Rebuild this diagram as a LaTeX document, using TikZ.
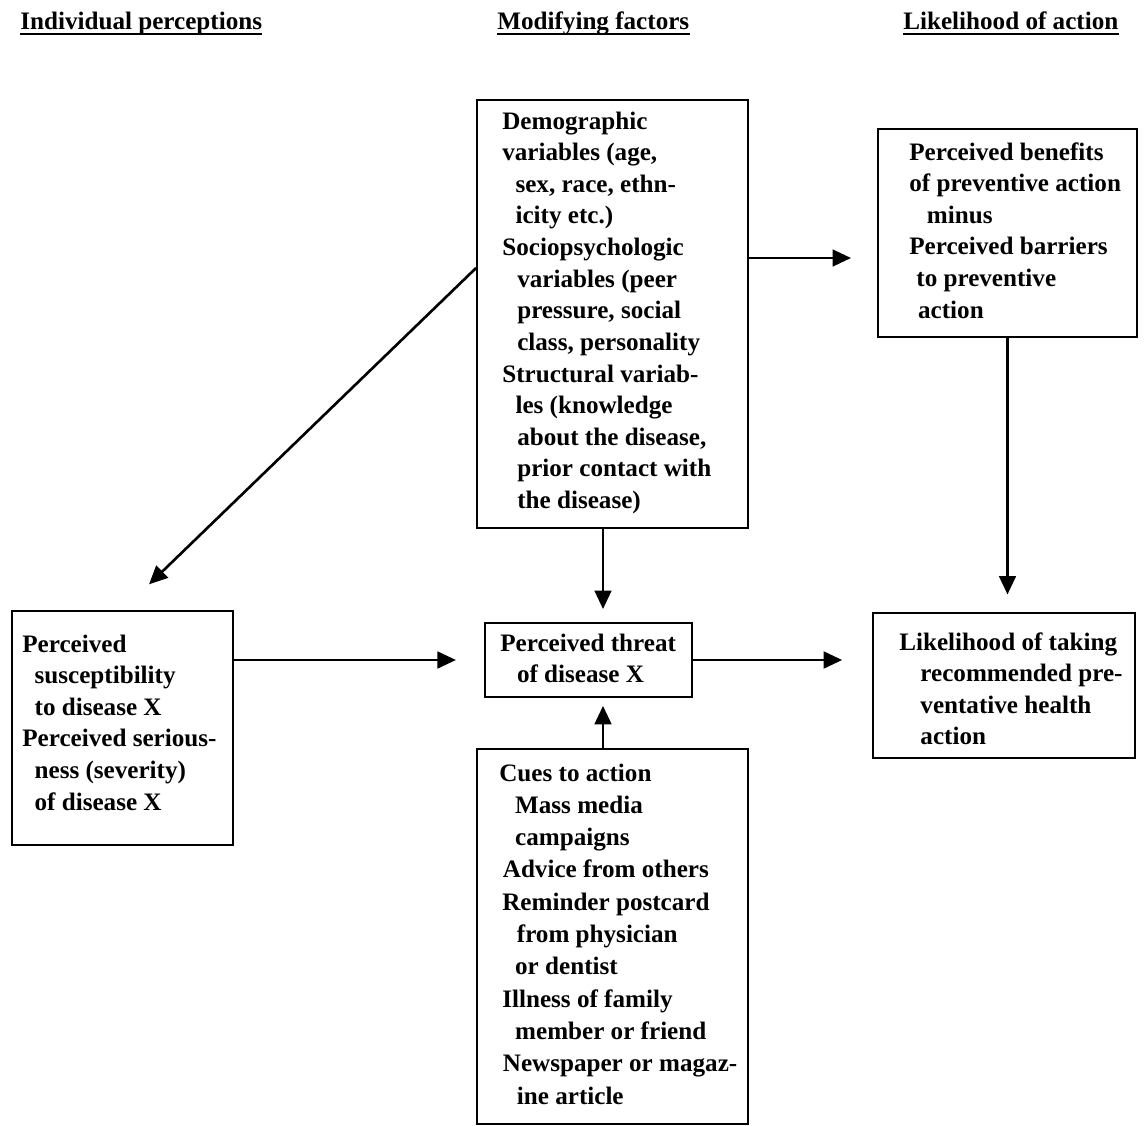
\documentclass[tikz,border=0pt]{standalone}
\usepackage{fontspec}
\setmainfont{Liberation Serif}
\usetikzlibrary{arrows.meta,fit}
\newcommand\myind[1]{\hspace*{#1pt}}
\begin{document}
\begin{tikzpicture}[x=0.02cm,y=-0.02cm,
  box/.style={draw,line width=1.1pt,inner sep=0pt},
  txt/.style={anchor=base west,inner sep=0pt,font=\fontsize{14.3}{18}\selectfont\bfseries},
  cuetxt/.style={txt,font=\fontsize{14.3}{18.4}\selectfont\bfseries},
  uline/.style={line width=1.1pt},
  arr/.style={line width=1.5pt,-{Triangle[length=10.5pt,width=9.5pt]}}]
\useasboundingbox (0,0) rectangle (1144,1126);

% headers
\node[txt] (h1) at (20,29) {Individual perceptions};
\node[txt] (h2) at (497,29) {Modifying factors};
\node[txt] (h3) at (903,29) {Likelihood of action};
\draw[uline] ([yshift=-3pt]h1.base west) -- ([yshift=-3pt]h1.base east);
\draw[uline] ([yshift=-3pt]h2.base west) -- ([yshift=-3pt]h2.base east);
\draw[uline] ([yshift=-3pt]h3.base west) -- ([yshift=-3pt]h3.base east);

% boxes
\node[box,fit={(477,100) (748,528)}] (demo) {};
\node[box,fit={(878,129) (1137,337)}] (ben) {};
\node[box,fit={(12,611) (233,845)}] (left) {};
\node[box,fit={(485,623) (692,697)}] (threat) {};
\node[box,fit={(477,749) (748,1124)}] (cues) {};
\node[box,fit={(873,613) (1135,758)}] (like) {};

% texts
\node[txt] (tdemo) at (502,129) {\begin{tabular}[t]{@{}l@{}}
Demographic\\
variables (age,\\
\myind{7.5}sex, race, ethn-\\
\myind{7.5}icity etc.)\\
Sociopsychologic\\
\myind{8.5}variables (peer\\
\myind{8.5}pressure, social\\
\myind{8.5}class, personality\\
Structural variab-\\
\myind{7.5}les (knowledge\\
\myind{8.5}about the disease,\\
\myind{8.5}prior contact with\\
\myind{8.5}the disease)
\end{tabular}};

\node[txt] (tben) at (909,160) {\begin{tabular}[t]{@{}l@{}}
Perceived benefits\\
of preventive action\\
\myind{10}minus\\
Perceived barriers\\
\myind{4}to preventive\\
\myind{5}action
\end{tabular}};

\node[txt] (tleft) at (22,652) {\begin{tabular}[t]{@{}l@{}}
Perceived\\
\myind{7}susceptibility\\
\myind{7}to disease X\\
Perceived serious-\\
\myind{7}ness (severity)\\
\myind{7}of disease X
\end{tabular}};

\node[txt] (tthreat) at (500,651) {\begin{tabular}[t]{@{}l@{}}
Perceived threat\\
\myind{9.5}of disease X
\end{tabular}};

\node[txt] (tlike) at (899,650) {\begin{tabular}[t]{@{}l@{}}
Likelihood of taking\\
\myind{12}recommended pre-\\
\myind{12}ventative health\\
\myind{12}action
\end{tabular}};

\node[cuetxt] (tcues) at (499,781) {\begin{tabular}[t]{@{}l@{}}
Cues to action\\
\myind{9}Mass media\\
\myind{9}campaigns\\
\myind{2}Advice from others\\
\myind{1.7}Reminder postcard\\
\myind{10}from physician\\
\myind{9}or dentist\\
\myind{1.7}Illness of family\\
\myind{9}member or friend\\
\myind{2}Newspaper or magaz-\\
\myind{10}ine article
\end{tabular}};

% helper coordinates for connector positions
\coordinate (ax) at (603,0);
\coordinate (ay1) at (0,258);
\coordinate (ay2) at (0,268);

% connectors
\draw[arr,shorten >=21pt] (demo.west |- ay2) -- (left.north);
\draw[arr,shorten >=14.8pt] (demo.east |- ay1) -- (ben.west |- ay1);
\draw[arr,shorten >=10pt] (ben.south) -- (ben.south |- like.north);
\draw[arr,shorten >=7.4pt] (demo.south -| ax) -- (threat.north -| ax);
\draw[arr,shorten >=16pt] (left.east |- threat.west) -- (threat.west);
\draw[arr,shorten >=17pt] (threat.east) -- (threat.east -| like.west);
\draw[arr,shorten >=4.5pt] (cues.north -| ax) -- (threat.south -| ax);
\end{tikzpicture}
\end{document}
